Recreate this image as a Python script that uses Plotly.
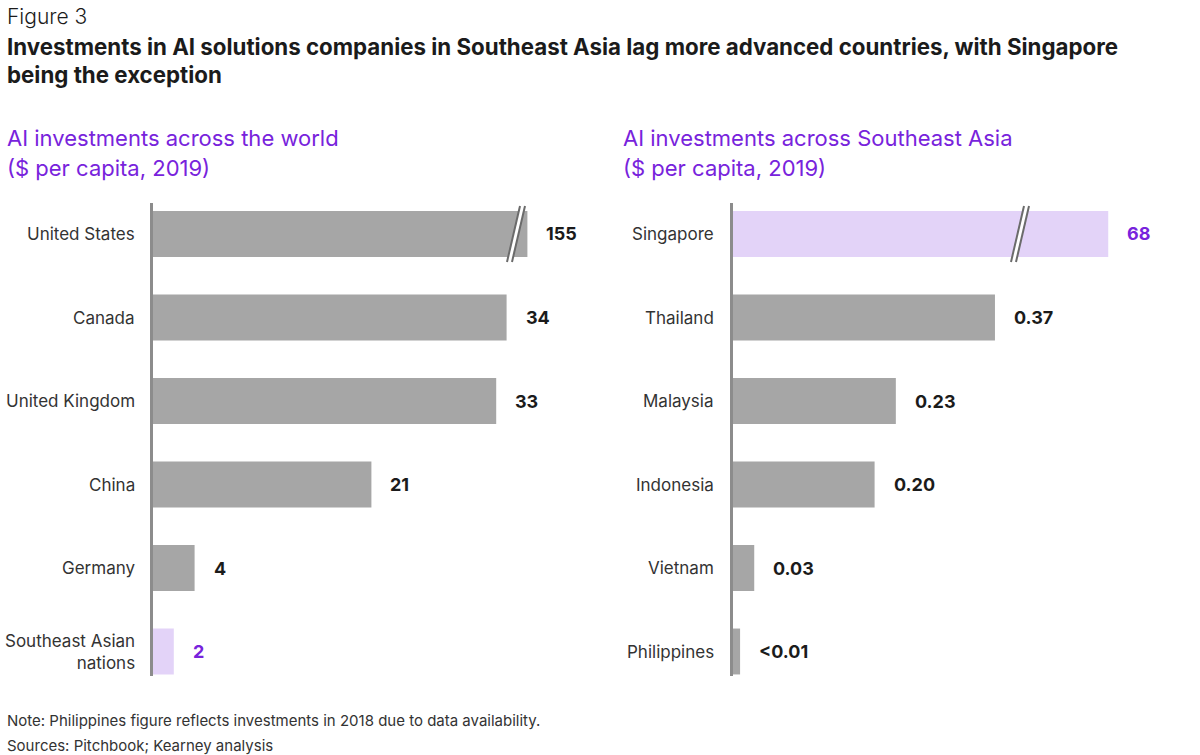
import plotly.graph_objects as go

# ---------------- data ----------------
world_countries = ["United States", "Canada", "United Kingdom", "China", "Germany", "Southeast Asian<br>nations"]
world_values = [155, 34, 33, 21, 4, 2]
world_labels = ["155", "34", "33", "21", "4", "2"]
world_highlight = [False, False, False, False, False, True]
world_axis_cap = 36.0          # broken-axis display length

sea_countries = ["Singapore", "Thailand", "Malaysia", "Indonesia", "Vietnam", "Philippines"]
sea_values = [68, 0.37, 0.23, 0.20, 0.03, 0.01]
sea_labels = ["68", "0.37", "0.23", "0.20", "0.03", "<0.01"]
sea_highlight = [True, False, False, False, False, False]
sea_axis_cap = 0.53

# ---------------- style ----------------
W, H = 1200, 755
GREY = "#a6a6a6"
LAV = "#e3d3f8"
PURPLE = "#7823dc"
FONT = "Inter, Lato, sans-serif"
DARK = "#1b1b1b"
TXT = "#333333"


def py(px):
    return 1 - px / H


def px_x(px):
    return px / W


fig = go.Figure()

panels = [
    dict(cats=world_countries, vals=world_values, labels=world_labels, hl=world_highlight,
         cap=world_axis_cap, xa="x", ya="y", x0=152, rng=448 / 10.4, brk_px=363, lab_right=137),
    dict(cats=sea_countries, vals=sea_values, labels=sea_labels, hl=sea_highlight,
         cap=sea_axis_cap, xa="x2", ya="y2", x0=732, rng=448 / 708.0, brk_px=287, lab_right=716),
]

shapes = []
annotations = []
for p in panels:
    disp = [min(v, p["cap"]) for v in p["vals"]]
    colors = [LAV if h else GREY for h in p["hl"]]
    fig.add_trace(go.Bar(
        x=disp, y=p["cats"], orientation="h", marker=dict(color=colors, line=dict(width=0)),
        width=0.55, xaxis=p["xa"], yaxis=p["ya"], hoverinfo="skip", showlegend=False,
    ))
    for c, d, lab, h, v in zip(p["cats"], disp, p["labels"], p["hl"], p["vals"]):
        annotations.append(dict(
            x=d, y=c, xref=p["xa"], yref=p["ya"], text=f"<b>{lab}</b>", showarrow=False,
            xanchor="left", yanchor="middle", xshift=17,
            font=dict(family=FONT, size=18, color=PURPLE if h else DARK),
        ))
        annotations.append(dict(
            x=px_x(p["lab_right"]), y=c, xref="paper", yref=p["ya"], text=c, showarrow=False,
            xanchor="right", yanchor="middle", align="right",
            font=dict(family=FONT, size=17, color=TXT),
        ))
        if v > p["cap"]:
            brk = p["brk_px"] / 448 * p["rng"]
            # white gap
            shapes.append(dict(
                type="path", xref=p["xa"], yref=p["ya"], xsizemode="pixel", ysizemode="pixel",
                xanchor=brk, yanchor=c,
                path="M -9,-28 L -4,-28 L 9,28 L 4,28 Z",
                fillcolor="white", line=dict(width=0), layer="above",
            ))
            for dx in (-9, -4):
                shapes.append(dict(
                    type="line", xref=p["xa"], yref=p["ya"], xsizemode="pixel", ysizemode="pixel",
                    xanchor=brk, yanchor=c, x0=dx, y0=-28, x1=dx + 13, y1=28,
                    line=dict(color="#6b6b6b", width=2), layer="above",
                ))

ydom = [py(676), py(203)]
yrange = [5 + (676 - 651.5) / 83.5, -(234 - 203) / 83.5]

fig.update_layout(
    width=W, height=H, margin=dict(l=0, r=0, t=0, b=0),
    paper_bgcolor="white", plot_bgcolor="white",
    bargap=0.45,
    xaxis=dict(domain=[px_x(153), px_x(601)], range=[0, panels[0]["rng"]], visible=False, fixedrange=True),
    xaxis2=dict(domain=[px_x(733), px_x(1181)], range=[0, panels[1]["rng"]], visible=False, fixedrange=True),
    yaxis=dict(domain=ydom, range=yrange, showticklabels=False, showgrid=False, zeroline=False,
               showline=True, linecolor="#8c8c8c", linewidth=3, anchor="x", ticks="", fixedrange=True),
    yaxis2=dict(domain=ydom, range=yrange, showticklabels=False, showgrid=False, zeroline=False,
                showline=True, linecolor="#8c8c8c", linewidth=3, anchor="x2", ticks="", fixedrange=True),
    shapes=shapes,
)

# titles and notes
texts = [
    ("Figure 3", 5, 16, 21, DARK, 300),
    ("<b>Investments in AI solutions companies in Southeast Asia lag more advanced countries, with Singapore</b>", 5, 46, 22.3, DARK, None),
    ("<b>being the exception</b>", 5, 75, 22.3, DARK, None),
    ("AI investments across the world", 5, 138, 22, PURPLE, None),
    ("($ per capita, 2019)", 5, 168, 22, PURPLE, None),
    ("AI investments across Southeast Asia", 621, 138, 22, PURPLE, None),
    ("($ per capita, 2019)", 621, 168, 22, PURPLE, None),
    ("Note: Philippines figure reflects investments in 2018 due to data availability.", 5, 720, 15, TXT, None),
    ("Sources: Pitchbook; Kearney analysis", 5, 745, 15, TXT, None),
]
for t, x, y, s, col, wt in texts:
    f = dict(family=FONT, size=s, color=col)
    if wt:
        f["weight"] = wt
    annotations.append(dict(
        x=px_x(x), y=py(y), xref="paper", yref="paper", text=t, showarrow=False,
        xanchor="left", yanchor="middle", font=f,
    ))

fig.update_layout(annotations=annotations)
fig.write_html("out.html", config={"displayModeBar": False},
               post_script="document.body.style.margin='0';document.body.style.overflow='hidden';")
